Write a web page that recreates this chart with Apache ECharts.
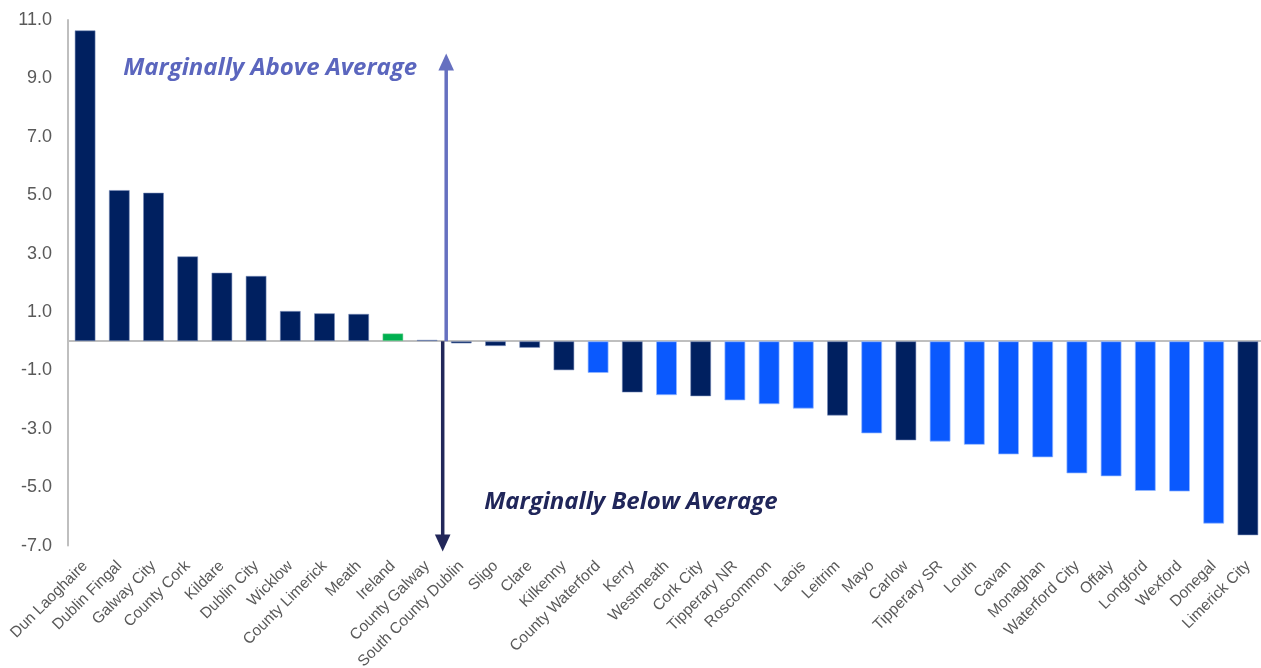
<!DOCTYPE html>
<html>
<head>
<meta charset="utf-8">
<title>Index vs national average by area</title>
<script src="https://cdn.jsdelivr.net/npm/echarts@6/dist/echarts.min.js"></script>
<style>
  html, body { margin: 0; padding: 0; background: #ffffff; }
  #chart { width: 1261px; height: 668px; }
</style>
</head>
<body>
<div id="chart"></div>
<script>
// Areas, ordered from highest to lowest
const categories = [
  'Dun Laoghaire', 'Dublin Fingal', 'Galway City', 'County Cork', 'Kildare',
  'Dublin City', 'Wicklow', 'County Limerick', 'Meath', 'Ireland',
  'County Galway', 'South County Dublin', 'Sligo', 'Clare', 'Kilkenny',
  'County Waterford', 'Kerry', 'Westmeath', 'Cork City', 'Tipperary NR',
  'Roscommon', 'Laois', 'Leitrim', 'Mayo', 'Carlow',
  'Tipperary SR', 'Louth', 'Cavan', 'Monaghan', 'Waterford City',
  'Offaly', 'Longford', 'Wexford', 'Donegal', 'Limerick City'
];

// Difference from the average
const values = [
  10.65, 5.18, 5.09, 2.91, 2.35,
  2.24, 1.04, 0.96, 0.94, 0.27,
  0.05, -0.08, -0.17, -0.23, -1.00,
  -1.09, -1.76, -1.85, -1.89, -2.03,
  -2.16, -2.31, -2.55, -3.16, -3.40,
  -3.44, -3.55, -3.88, -3.98, -4.53,
  -4.63, -5.13, -5.15, -6.25, -6.65
];

// Bar group: 'a' = dark, 'b' = bright, 'n' = national figure
const groups = [
  'a', 'a', 'a', 'a', 'a',
  'a', 'a', 'a', 'a', 'n',
  'a', 'a', 'a', 'a', 'a',
  'b', 'a', 'b', 'a', 'b',
  'b', 'b', 'a', 'b', 'a',
  'b', 'b', 'b', 'b', 'b',
  'b', 'b', 'b', 'b', 'a'
];

// Value axis range and step
const yMin = -7;
const yMax = 11;
const yStep = 2;

const groupColors = { a: '#002060', b: '#0A59FE', n: '#00B050' };
const groupBorders = { a: 'rgba(120,140,185,0.55)', b: 'rgba(150,185,255,0.7)', n: 'rgba(120,210,150,0.5)' };

const barData = values.map((v, i) => ({
  value: v,
  itemStyle: {
    color: groupColors[groups[i]],
    borderColor: groupBorders[groups[i]],
    borderWidth: 1
  }
}));

const chart = echarts.init(document.getElementById('chart'), null, { renderer: 'canvas' });

const option = {
  animation: false,
  backgroundColor: '#ffffff',
  grid: { left: 68, right: -4, top: 20, bottom: 122.4, outerBoundsMode: 'none' },
  xAxis: [
    {
      type: 'category',
      data: categories,
      axisLine: { onZero: true, lineStyle: { color: '#BFBFBF', width: 2 } },
      axisTick: { show: false },
      axisLabel: { show: false },
      splitLine: { show: false }
    },
    {
      type: 'category',
      data: categories,
      position: 'bottom',
      axisLine: { show: false, onZero: false },
      axisTick: { show: false },
      axisLabel: {
        interval: 0,
        rotate: 45,
        margin: 18,
        color: '#595959',
        fontFamily: '"Liberation Sans", Arial, sans-serif',
        fontSize: 15.5
      },
      splitLine: { show: false }
    }
  ],
  yAxis: {
    type: 'value',
    min: yMin,
    max: yMax,
    interval: yStep,
    axisLine: { show: true, lineStyle: { color: '#BFBFBF', width: 2 } },
    axisTick: { show: false },
    splitLine: { show: false },
    axisLabel: {
      margin: 16,
      color: '#595959',
      fontFamily: '"Liberation Sans", Arial, sans-serif',
      fontSize: 18,
      formatter: v => v.toFixed(1)
    }
  },
  series: [
    {
      type: 'bar',
      xAxisIndex: 0,
      yAxisIndex: 0,
      data: barData,
      barWidth: 21
    }
  ]
};

chart.setOption(option);

// Divider arrows and captions, placed between 'County Galway' and 'South County Dublin'
const left = chart.convertToPixel({ xAxisIndex: 0, yAxisIndex: 0 }, [10, 0]);
const right = chart.convertToPixel({ xAxisIndex: 0, yAxisIndex: 0 }, [11, 0]);
const xSplit = (left[0] + right[0]) / 2;
const yZero = left[1];
const yOf = v => chart.convertToPixel({ yAxisIndex: 0 }, v);

const upX = xSplit + 2;
const downX = xSplit - 1.5;
const upTip = yOf(9.85);
const downTip = yOf(-7.2);
const headLen = 17;
const headHalf = 7.8;
const upColor = '#6670C0';
const downColor = '#22275A';
const captionFont = 'italic bold 24px "Open Sans", Lato, sans-serif';

chart.setOption({
  graphic: [
    {
      type: 'line',
      shape: { x1: upX, y1: yZero, x2: upX, y2: upTip + headLen - 1 },
      style: { stroke: upColor, lineWidth: 3.5 },
      z: 50
    },
    {
      type: 'polygon',
      shape: { points: [[upX - headHalf, upTip + headLen], [upX + headHalf, upTip + headLen], [upX, upTip]] },
      style: { fill: upColor },
      z: 50
    },
    {
      type: 'line',
      shape: { x1: downX, y1: yZero, x2: downX, y2: downTip - headLen + 1 },
      style: { stroke: downColor, lineWidth: 3.5 },
      z: 50
    },
    {
      type: 'polygon',
      shape: { points: [[downX - headHalf, downTip - headLen], [downX + headHalf, downTip - headLen], [downX, downTip]] },
      style: { fill: downColor },
      z: 50
    },
    {
      type: 'text',
      style: {
        text: 'Marginally Above Average',
        x: xSplit - 27,
        y: yOf(9.35),
        align: 'right',
        verticalAlign: 'middle',
        font: captionFont,
        fill: '#5B66BE'
      },
      z: 50
    },
    {
      type: 'text',
      style: {
        text: 'Marginally Below Average',
        x: xSplit + 40,
        y: yOf(-5.5),
        align: 'left',
        verticalAlign: 'middle',
        font: captionFont,
        fill: '#20265A'
      },
      z: 50
    }
  ]
});
</script>
</body>
</html>
